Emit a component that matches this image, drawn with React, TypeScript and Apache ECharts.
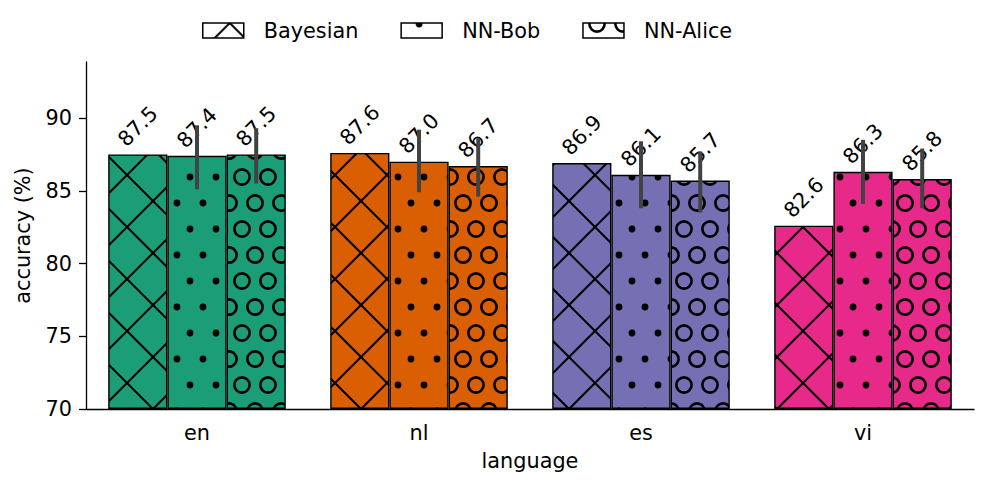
import React, { useEffect, useRef } from 'react';
import * as echarts from 'echarts';

const categories = ['en', 'nl', 'es', 'vi'];
const seriesNames = ['Bayesian', 'NN-Bob', 'NN-Alice'];
const bayesian = [87.5, 87.6, 86.9, 82.6];
const nnBob = [87.4, 87.0, 86.1, 86.3];
const nnAlice = [87.5, 86.7, 85.7, 85.8];
const nnBobLow = [85.1, 84.9, 83.8, 84.1];
const nnBobHigh = [89.5, 89.2, 88.4, 88.5];
const nnAliceLow = [85.5, 84.6, 83.5, 83.8];
const nnAliceHigh = [89.3, 88.6, 87.7, 87.9];
const yTicks = [70, 75, 80, 85, 90];
const palette = ['#1b9e77', '#d95f02', '#7570b3', '#e7298a'];
const hatchKinds = ['x', 'dot', 'ring'];

const FONT = 'DejaVu Sans';
const FS = 20.8;

// (ox, oy): reference lattice point of the hatch within the tile
function makeTile(kind: string, bg: string, ox: number, oy: number) {
  const c = document.createElement('canvas');
  const w = kind === 'x' ? 52 : 26;
  const h = 52;
  c.width = w;
  c.height = h;
  const ctx = c.getContext('2d')!;
  ctx.fillStyle = bg;
  ctx.fillRect(0, 0, w, h);
  ctx.strokeStyle = '#000';
  ctx.fillStyle = '#000';
  ctx.lineWidth = 2;
  if (kind === 'x') {
    const a0 = ox - oy;
    const b0 = ox + oy;
    for (let k = -4; k <= 4; k++) {
      const a = a0 + 52 * k;
      const b = b0 + 52 * k;
      ctx.beginPath();
      ctx.moveTo(a - 60, -60);
      ctx.lineTo(a + 112, 112);
      ctx.stroke();
      ctx.beginPath();
      ctx.moveTo(b + 60, -60);
      ctx.lineTo(b - 112, 112);
      ctx.stroke();
    }
  } else {
    const pts = [[ox, oy], [ox + 13, oy + 26]];
    ctx.lineWidth = 2.6;
    for (const [px, py] of pts) {
      for (let dx = -2; dx <= 2; dx++) {
        for (let dy = -2; dy <= 2; dy++) {
          const x = px + dx * w;
          const y = py + dy * h;
          ctx.beginPath();
          if (kind === 'dot') {
            ctx.arc(x, y, 3.4, 0, Math.PI * 2);
            ctx.fill();
          } else {
            ctx.arc(x, y, 7.6, 0, Math.PI * 2);
            ctx.stroke();
          }
        }
      }
    }
  }
  return { image: c, repeat: 'repeat', imageWidth: w, imageHeight: h };
}

const barPhase: Record<string, [number, number]> = { x: [23, 19], dot: [8, 21], ring: [8, 21] };
const legendPhase: Record<string, [number, number]> = { x: [27, 0], dot: [18, 1], ring: [14, 1] };

export default function App() {
  const ref = useRef<HTMLDivElement>(null);
  useEffect(() => {
    document.body.style.margin = '0';
    if (!ref.current) return;
    const chart = echarts.init(ref.current, null, { renderer: 'svg' });

    const values = [bayesian, nnBob, nnAlice];
    const barSeries = seriesNames.map((name, si) => ({
      name,
      type: 'bar',
      barGap: '0%',
      barCategoryGap: '20%',
      z: 2,
      itemStyle: { borderColor: '#000', borderWidth: 1.4 },
      label: {
        show: true,
        position: 'top',
        rotate: 45,
        align: 'center',
        verticalAlign: 'middle',
        distance: 28,
        fontSize: FS,
        fontFamily: FONT,
        color: '#000',
        formatter: (p: any) => Number(p.value).toFixed(1),
      },
      data: values[si].map((v, ci) => {
        const k = hatchKinds[si];
        return {
          value: v,
          itemStyle: { color: makeTile(k, palette[ci], barPhase[k][0], barPhase[k][1]) },
        };
      }),
    }));

    const errSeries = (name: string, low: number[], high: number[], slot: number) => ({
      name,
      type: 'custom',
      z: 5,
      silent: true,
      data: categories.map((_, i) => [i, low[i], high[i]]),
      renderItem: (params: any, api: any) => {
        const lo = api.coord([api.value(0), api.value(1)]);
        const hi = api.coord([api.value(0), api.value(2)]);
        const band = api.size([1, 0])[0];
        const off = ((band * 0.8) / 3) * slot;
        return {
          type: 'line',
          shape: { x1: lo[0] + off, y1: lo[1], x2: hi[0] + off, y2: hi[1] },
          style: { stroke: '#424242', lineWidth: 4 },
        };
      },
    });

    const option: any = {
      animation: false,
      textStyle: { fontFamily: FONT },
      grid: { left: 86, right: 13, top: 62, bottom: 80 },
      legend: {
        top: 20,
        left: 202,
        padding: 0,
        icon: 'rect',
        itemWidth: 41,
        itemHeight: 15,
        itemGap: 42,
        selectedMode: false,
        textStyle: { fontSize: FS, color: '#000', fontFamily: FONT, padding: [0, 0, 0, 15] },
        data: seriesNames.map((n, i) => {
          const k = hatchKinds[i];
          return {
            name: n,
            itemStyle: {
              color: makeTile(k, '#ffffff', legendPhase[k][0], legendPhase[k][1]),
              borderColor: '#000',
              borderWidth: 1.5,
            },
          };
        }),
      },
      xAxis: {
        type: 'category',
        data: categories,
        name: 'language',
        nameLocation: 'middle',
        nameGap: 41,
        nameTextStyle: { fontSize: FS, color: '#000', fontFamily: FONT },
        axisLine: { lineStyle: { color: '#000', width: 1.3 } },
        axisTick: { alignWithLabel: true, length: 7, lineStyle: { color: '#000', width: 1.3 } },
        axisLabel: { fontSize: FS, color: '#000', margin: 13, fontFamily: FONT },
        splitLine: { show: false },
      },
      yAxis: {
        type: 'value',
        min: 70,
        max: 93.85,
        interval: 5,
        startValue: 70,
        name: 'accuracy (%)',
        nameLocation: 'middle',
        nameGap: 53,
        nameTextStyle: { fontSize: FS, color: '#000', fontFamily: FONT },
        axisLine: { show: true, lineStyle: { color: '#000', width: 1.3 } },
        axisTick: { show: true, length: 7, lineStyle: { color: '#000', width: 1.3 }, customValues: yTicks },
        axisLabel: { fontSize: FS, color: '#000', margin: 14, fontFamily: FONT, customValues: yTicks },
        splitLine: { show: false },
      },
      series: [
        ...barSeries,
        errSeries('err-bob', nnBobLow, nnBobHigh, 0),
        errSeries('err-alice', nnAliceLow, nnAliceHigh, 1),
      ],
    };
    chart.setOption(option);
    return () => chart.dispose();
  }, []);
  return <div ref={ref} style={{ width: 987, height: 489 }} />;
}
